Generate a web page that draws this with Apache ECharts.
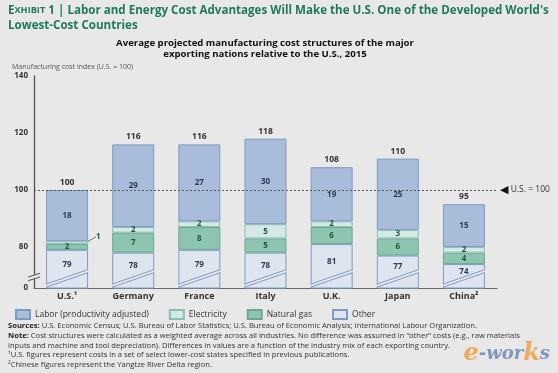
<!DOCTYPE html>
<html><head><meta charset="utf-8">
<script src="https://cdn.jsdelivr.net/npm/echarts@6/dist/echarts.min.js"></script>
<style>html,body{margin:0;padding:0;background:#e8e8e8}#c{width:558px;height:373px}</style>
</head><body><div id="c"></div>
<script>
const categories = ['U.S.¹', 'Germany', 'France', 'Italy', 'U.K.', 'Japan', 'China²'];
const labor = [18, 29, 27, 30, 19, 25, 15];
const electricity = [1, 2, 2, 5, 2, 3, 2];
const naturalGas = [2, 7, 8, 5, 6, 6, 4];
const other = [79, 78, 79, 78, 81, 77, 74];
const totals = [100, 116, 116, 118, 108, 110, 95];
const yTicks = [80, 100, 120, 140];
const yZeroLabel = '0';
const usLine = 100;

const BG = '#e8e8e8';
const Y_MIN = 65.6, Y_MAX = 140;
const BAR_W = 42;
const BORDER = '#7d9bc6';
const FONT = 'Open Sans';
// break slash geometry (value units)
const SL = { l1: 65.9, r1: 71.0, l2: 66.95, r2: 72.05 };

const chart = echarts.init(document.getElementById('c'));

const innerLabel = (color) => ({
  show: true, position: 'inside', fontFamily: FONT, fontWeight: 'bold',
  fontSize: 8, color: color
});

function breakRender(params, api) {
  const cx = api.coord([api.value(0), Y_MIN])[0];
  const half = BAR_W / 2;
  const xl = cx - half, xr = cx + half;
  const yl1 = api.coord([0, SL.l1])[1], yr1 = api.coord([0, SL.r1])[1];
  const yl2 = api.coord([0, SL.l2])[1], yr2 = api.coord([0, SL.r2])[1];
  const children = [
    { type: 'polygon', shape: { points: [[xl, yl1], [xr, yr1], [xr, yr2], [xl, yl2]] },
      style: { fill: BG, stroke: null } },
    { type: 'line', shape: { x1: xl, y1: yl1, x2: xr, y2: yr1 }, style: { stroke: BORDER, lineWidth: 1 } },
    { type: 'line', shape: { x1: xl, y1: yl2, x2: xr, y2: yr2 }, style: { stroke: BORDER, lineWidth: 1 } }
  ];
  if (params.dataIndex === 0) {
    const ax = params.coordSys.x;
    const a1 = api.coord([0, 68.8])[1], a2 = api.coord([0, 70.1])[1];
    const d = 1.9;
    children.push(
      { type: 'polygon', shape: { points: [[ax - 6, a1 + d], [ax + 6, a1 - d], [ax + 6, a2 - d], [ax - 6, a2 + d]] },
        style: { fill: BG } },
      { type: 'line', shape: { x1: ax - 6, y1: a1 + d, x2: ax + 6, y2: a1 - d }, style: { stroke: '#555', lineWidth: 1 } },
      { type: 'line', shape: { x1: ax - 6, y1: a2 + d, x2: ax + 6, y2: a2 - d }, style: { stroke: '#555', lineWidth: 1 } }
    );
  }
  return { type: 'group', children };
}

const option = {
  backgroundColor: BG,
  animation: false,
  textStyle: { fontFamily: FONT },
  title: {
    text: 'Average projected manufacturing cost structures of the major\nexporting nations relative to the U.S., 2015',
    left: 265, top: 38, textAlign: 'center', padding: 0,
    textStyle: { color: '#111', fontFamily: FONT, fontWeight: 'bold', fontSize: 9.6, lineHeight: 11 }
  },
  grid: { left: 34, right: 61, top: 76, bottom: 85 },
  legend: {
    data: ['Labor (productivity adjusted)', 'Electricity', 'Natural gas', 'Other'],
    left: 10, top: 304, itemWidth: 14, itemHeight: 9, itemGap: 20, icon: 'rect',
    textStyle: { fontFamily: FONT, fontSize: 8.5, color: '#333' }
  },
  xAxis: {
    type: 'category', data: categories,
    axisLine: { lineStyle: { color: '#6a6a6a', width: 1 } },
    axisTick: { show: false },
    axisLabel: { fontFamily: FONT, fontWeight: 'bold', fontSize: 9, color: '#333', margin: 4 }
  },
  yAxis: {
    type: 'value', min: Y_MIN, max: Y_MAX,
    splitLine: { show: false },
    axisLine: { show: true, lineStyle: { color: '#555', width: 1.3 } },
    axisTick: { show: false },
    axisLabel: {
      customValues: [Y_MIN].concat(yTicks),
      formatter: v => (v < yTicks[0] - 5 ? yZeroLabel : String(Math.round(v))),
      fontFamily: FONT, fontWeight: 'bold', fontSize: 8, color: '#333', margin: 6
    }
  },
  series: [
    { name: 'Other', type: 'bar', stack: 'a', barWidth: BAR_W, data: other,
      itemStyle: { color: '#dfe5ef', borderColor: BORDER, borderWidth: 1, borderRadius: 0 },
      label: innerLabel('#2c3b55') },
    { name: 'Natural gas', type: 'bar', stack: 'a', data: naturalGas,
      itemStyle: { color: '#8ec5b1', borderColor: '#6aa896', borderWidth: 1, borderRadius: 0 },
      label: innerLabel('#1c5a3e') },
    { name: 'Electricity', type: 'bar', stack: 'a',
      data: electricity.map((v, i) => i === 0 ? { value: v, label: { position: 'right' }, labelLine: { show: true, lineStyle: { color: '#555', width: 0.8 } } } : v),
      itemStyle: { color: '#d3e9e5', borderColor: '#8fbdb3', borderWidth: 1, borderRadius: 0 },
      label: innerLabel('#1c5a3e'),
      labelLayout: p => (p.dataIndex === 0 ? { dx: 3, dy: -6 } : {}) },
    { name: 'Labor (productivity adjusted)', type: 'bar', stack: 'a', data: labor,
      itemStyle: { color: '#a9bcd9', borderColor: BORDER, borderWidth: 1, borderRadius: 0 },
      label: innerLabel('#2c3b55'),
      markLine: {
        silent: true, symbol: 'none',
        data: [{ yAxis: usLine }],
        lineStyle: { color: '#555', type: [2, 2], width: 1 },
        label: {
          position: 'end', distance: 3, formatter: '{t|◀} U.S. = 100',
          fontFamily: FONT, fontSize: 8.5, color: '#333',
          rich: { t: { fontSize: 11, color: '#111', fontFamily: 'DejaVu Sans' } }
        }
      } },
    { name: 'total', type: 'bar', stack: 'a', data: totals.map(() => 0),
      itemStyle: { color: 'transparent', borderRadius: 0 },
      label: { show: true, position: 'top', distance: 3, formatter: p => totals[p.dataIndex],
        fontFamily: FONT, fontWeight: 'bold', fontSize: 8.5, color: '#333' } },
    { name: 'breaks', type: 'custom', z: 5, renderItem: breakRender,
      data: categories.map((c, i) => [i]), silent: true }
  ],
  graphic: [
    { type: 'text', left: 8, top: 3, style: {
      text: '{s|E}{c|XHIBIT} {s|1 | Labor and Energy Cost Advantages Will Make the U.S. One of the Developed World\'s}\n{s|Lowest-Cost Countries}',
      fill: '#1e7a5e', fontFamily: FONT, fontWeight: 'bold', lineHeight: 15,
      rich: { s: { fontSize: 11.6, fontWeight: 'bold', fill: '#1e7a5e', fontFamily: FONT, lineHeight: 15 },
              c: { fontSize: 9.2, fontWeight: 'bold', fill: '#1e7a5e', fontFamily: FONT, lineHeight: 15 } }
    } },
    { type: 'text', left: 12, top: 63, style: {
      text: 'Manufacturing cost index (U.S. = 100)', fill: '#555', fontFamily: FONT, fontSize: 7
    } },
    { type: 'text', left: 8, top: 321, style: {
      text: '{b|Sources:} U.S. Economic Census; U.S. Bureau of Labor Statistics; U.S. Bureau of Economic Analysis; International Labour Organization.\n' +
            '{b|Note:} Cost structures were calculated as a weighted average across all industries. No difference was assumed in “other” costs (e.g., raw materials\n' +
            'inputs and machine and tool depreciation). Differences in values are a function of the industry mix of each exporting country.\n' +
            '¹U.S. figures represent costs in a set of select lower-cost states specified in previous publications.\n' +
            '²Chinese figures represent the Yangtze River Delta region.',
      fill: '#333', fontFamily: FONT, fontSize: 7.6, lineHeight: 9.8,
      rich: { b: { fontWeight: 'bold', fontFamily: FONT, fontSize: 7.6, fill: '#222', lineHeight: 9.8 } }
    } },
    { type: 'text', right: 8, top: 342, style: {
      text: '{o|e}{u|-wor}{o|k}{u|s}', fontFamily: 'DejaVu Serif', fontStyle: 'italic',
      rich: { o: { fill: '#f0a040', fontSize: 24, fontStyle: 'italic', fontWeight: 'bold', fontFamily: 'DejaVu Serif' },
              u: { fill: '#7088b8', fontSize: 18, fontStyle: 'italic', fontWeight: 'bold', fontFamily: 'DejaVu Serif' } },
      opacity: 0.85
    } }
  ]
};
chart.setOption(option);

// place "Other" labels midway between the segment top and the break slash
const slashMid = (SL.l1 + SL.r1) / 2;
const otherData = other.map((v, i) => {
  const top = chart.convertToPixel({ gridIndex: 0 }, [i, v])[1];
  const sl = chart.convertToPixel({ gridIndex: 0 }, [i, slashMid])[1];
  return { value: v, label: { position: 'insideTop', distance: Math.max(0, (sl - top) / 2 - 4.5) } };
});
chart.setOption({ series: [{ name: 'Other', data: otherData }] });
</script></body></html>
